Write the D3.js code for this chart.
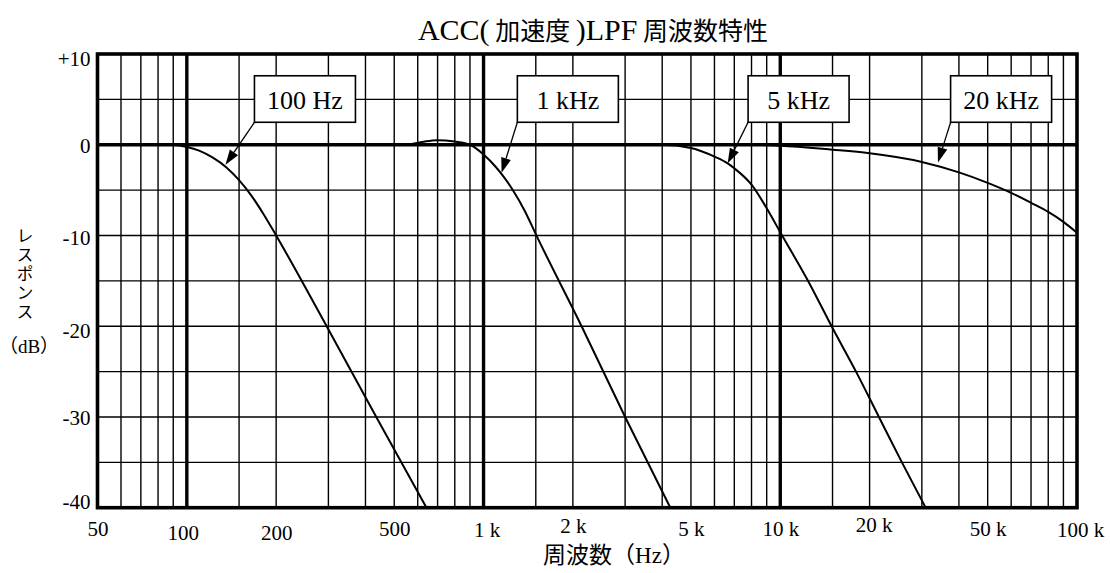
<!DOCTYPE html>
<html><head><meta charset="utf-8">
<script src="https://cdn.jsdelivr.net/npm/d3@7"></script>
<style>body{margin:0;background:#fff;}svg{display:block}</style>
</head><body>
<svg id="c" width="1110" height="573"></svg>
<script>
// ---------- data ----------
const xTickValues = [50,100,200,500,1000,2000,5000,10000,20000,50000,100000];
const xTickLabels = ["50","100","200","500","1 k","2 k","5 k","10 k","20 k","50 k","100 k"];
const yTickValues = [10,0,-10,-20,-30,-40];
const yTickLabels = ["+10","0","-10","-20","-30","-40"];
const xGridValues = [60,70,80,90,100,150,200,300,400,500,600,700,800,900,
  1000,1500,2000,3000,4000,5000,6000,7000,8000,9000,
  10000,15000,20000,30000,40000,50000,60000,70000,80000,90000];
const xMajorValues = [100,1000,10000];
const yGridValues = [5,0,-5,-10,-15,-20,-25,-30,-35];
const yMajorValues = [0];

const seriesNames = ["100 Hz","1 kHz","5 kHz","20 kHz"];
const freq100 = [50,88,100,110,122,136,150,165,181,200,296,435,642];
const resp100 = [0,0,-0.25,-0.65,-1.4,-2.5,-3.9,-5.6,-7.6,-10,-20,-30,-40];
const freq1k  = [50,540,620,695,800,900,1000,1100,1180,1250,1380,1500,2140,3000,4260];
const resp1k  = [0,0,0.3,0.5,0.35,0,-1.07,-2.45,-3.7,-4.9,-7.35,-9.85,-20,-30,-40];
const freq5k  = [50,4000,5000,6000,6650,7000,8000,9000,10100,12500,15000,18000,21500,25700,30900];
const resp5k  = [0,0,-0.35,-1.3,-2.05,-2.6,-4.4,-7.0,-9.9,-15.2,-20.2,-25,-30,-35,-40];
const freq20k = [50,7000,10000,15000,20000,30000,40000,50000,60000,70000,80000,90000,100000];
const resp20k = [0,0,-0.1,-0.55,-0.95,-1.9,-3.05,-4.2,-5.3,-6.4,-7.4,-8.5,-9.7];

// callouts (in data units)
const calloutTipFreq = [135,1150,6650,34000];
const calloutTipDb   = [-2.2,-3.1,-2.05,-1.95];
const calloutBoxFreq = [169,1300,7790,37500];
const calloutBoxDb   = [7.6,7.6,7.6,7.6];

// ---------- drawing ----------
const svg = d3.select("#c");
const x = d3.scaleLog().domain([50,100000]).range([97.5,1077]);
const y = d3.scaleLinear().domain([-40,10]).range([507.7,54]);
const serif = "'Liberation Serif','Noto Sans CJK JP',serif";
const cjk = "'Noto Sans CJK JP','Liberation Serif',sans-serif";

const grid = svg.append("g");
grid.selectAll("line.vx").data(xGridValues).join("line")
  .attr("x1",d=>x(d)).attr("x2",d=>x(d)).attr("y1",y(10)).attr("y2",y(-40))
  .attr("stroke","#000").attr("stroke-width",d=>xMajorValues.includes(d)?3.4:1.4);
grid.selectAll("line.hy").data(yGridValues).join("line")
  .attr("x1",x(50)).attr("x2",x(100000)).attr("y1",d=>y(d)).attr("y2",d=>y(d))
  .attr("stroke","#000").attr("stroke-width",d=>yMajorValues.includes(d)?3.4:1.4);

// curves
const line = d3.line().x(d=>x(d[0])).y(d=>y(d[1])).curve(d3.curveMonotoneX);
const series = [[freq100,resp100],[freq1k,resp1k],[freq5k,resp5k],[freq20k,resp20k]];
svg.append("g").selectAll("path").data(series).join("path")
  .attr("d",s=>line(d3.zip(s[0],s[1])))
  .attr("fill","none").attr("stroke","#000").attr("stroke-width",2);

// frame
svg.append("rect").attr("x",x(50)).attr("y",y(10))
  .attr("width",x(100000)-x(50)).attr("height",y(-40)-y(10))
  .attr("fill","none").attr("stroke","#000").attr("stroke-width",3.6);

// x axis labels
const xNudge = {100:[-4,4],200:[0,4],1000:[3,1],2000:[0,-3.5],20000:[4,-4],100000:[3,1]};
const gx = svg.append("g")
  .call(d3.axisBottom(x).tickValues(xTickValues).tickFormat((d,i)=>xTickLabels[i]).tickSize(0));
gx.select(".domain").remove();
gx.selectAll("text")
  .attr("font-family",serif).attr("font-size",21).attr("fill","#000")
  .attr("dy",0)
  .attr("y",d=>536+((xNudge[d]||[0,0])[1]))
  .attr("x",d=>((xNudge[d]||[0,0])[0]));

// y axis labels
const yNudge = {10:5,0:1,"-10":2,"-20":4,"-30":1,"-40":-6};
const gy = svg.append("g").attr("transform",`translate(${x(50)},0)`)
  .call(d3.axisLeft(y).tickValues(yTickValues).tickFormat((d,i)=>yTickLabels[i]).tickSize(0).tickPadding(7));
gy.select(".domain").remove();
gy.selectAll("text")
  .attr("font-family",serif).attr("font-size",21).attr("fill","#000")
  .attr("dy",d=>(6.8+(yNudge[d]||0))+"px");

// callouts
const co = svg.append("g");
seriesNames.forEach((name,i)=>{
  const bx = x(calloutBoxFreq[i]), by = y(calloutBoxDb[i]);
  const bw = 101, bh = 46.5;
  const tx = x(calloutTipFreq[i]), ty = y(calloutTipDb[i]);
  const sx = bx, sy = by+bh;
  co.append("rect").attr("x",bx).attr("y",by).attr("width",bw).attr("height",bh)
    .attr("fill","#fff").attr("stroke","#000").attr("stroke-width",1.6);
  co.append("text").attr("x",bx+bw/2).attr("y",by+33.5).attr("text-anchor","middle")
    .attr("font-family",serif).attr("font-size",26).attr("fill","#000").text(name);
  const dx = tx-sx, dy = ty-sy, L = Math.hypot(dx,dy), ux = dx/L, uy = dy/L;
  const hl = 15, hw = 5;
  const bxp = tx-ux*hl, byp = ty-uy*hl;
  co.append("line").attr("x1",sx).attr("y1",sy).attr("x2",bxp).attr("y2",byp)
    .attr("stroke","#000").attr("stroke-width",1.3);
  co.append("path")
    .attr("d",`M${tx},${ty}L${bxp-uy*hw},${byp+ux*hw}L${bxp+uy*hw},${byp-ux*hw}Z`)
    .attr("fill","#000");
});

// title
const title = svg.append("text").attr("x",593).attr("y",40).attr("text-anchor","middle").attr("fill","#000");
title.append("tspan").attr("font-family",serif).attr("font-size",30).text("ACC(");
title.append("tspan").attr("font-family",cjk).attr("font-size",25).text(" 加速度 ");
title.append("tspan").attr("font-family",serif).attr("font-size",30).text(")LPF");
title.append("tspan").attr("font-family",cjk).attr("font-size",25).text(" 周波数特性");

// x axis title
const xt = svg.append("text").attr("x",614).attr("y",563).attr("text-anchor","middle").attr("fill","#000");
xt.append("tspan").attr("font-family",cjk).attr("font-size",23).text("周波数");
xt.append("tspan").attr("font-family",serif).attr("font-size",23).text("（Hz）");

// y axis title (vertical)
svg.append("text").attr("x",25).attr("y",227)
  .attr("writing-mode","vertical-rl").attr("letter-spacing","2px")
  .attr("font-family",cjk).attr("font-size",17).attr("fill","#000").text("レスポンス");
svg.append("text").attr("x",29).attr("y",353).attr("text-anchor","middle")
  .attr("font-family",serif).attr("font-size",19).attr("fill","#000").text("（dB）");
</script>
</body></html>
